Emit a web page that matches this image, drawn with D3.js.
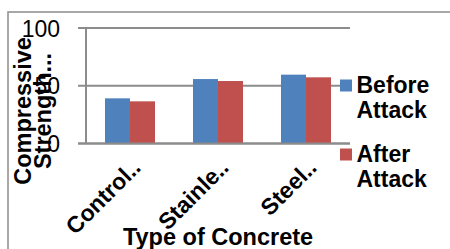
<!DOCTYPE html>
<html>
<head>
<meta charset="utf-8">
<script src="https://cdn.jsdelivr.net/npm/d3@7"></script>
<style>
  body { margin: 0; background: #fff; }
  svg { display: block; font-family: "Liberation Sans", Arial, sans-serif; }
</style>
</head>
<body>
<svg id="chart" width="450" height="249"></svg>
<script>
const categories = ["Control..", "Stainle..", "Steel.."];
const seriesNames = ["Before Attack", "After Attack"];
const beforeAttack = [39.1, 55.8, 59.6];
const afterAttack = [36.5, 54.1, 57.3];
const yTicks = [0, 50, 100];
const colors = ["#4F81BD", "#C0504D"];

const svg = d3.select("#chart");
const plot = { left: 86, right: 350, top: 28, bottom: 143.5 };
const grey = "#8c8c8c";

// outer chart border (runs off the picture on right and bottom)
svg.append("path")
  .attr("d", "M8,260V12H460")
  .attr("fill", "none")
  .attr("stroke", grey)
  .attr("stroke-width", 1.5);

const x = d3.scaleBand()
  .domain(categories)
  .range([plot.left, plot.right])
  .paddingInner(0.432)
  .paddingOuter(0.216);

const xSub = d3.scaleBand()
  .domain(seriesNames)
  .range([0, x.bandwidth()]);

const y = d3.scaleLinear()
  .domain([0, 100])
  .range([plot.bottom, plot.top]);

// gridlines + ticks
svg.append("g")
  .selectAll("line")
  .data(yTicks)
  .join("line")
  .attr("x1", plot.left - 8)
  .attr("x2", plot.right)
  .attr("y1", d => y(d))
  .attr("y2", d => y(d))
  .attr("stroke", grey)
  .attr("stroke-width", 2);

svg.append("line")
  .attr("x1", plot.left).attr("x2", plot.left)
  .attr("y1", y(100)).attr("y2", y(0))
  .attr("stroke", grey)
  .attr("stroke-width", 2);

// tick labels
svg.append("g")
  .selectAll("text")
  .data(yTicks)
  .join("text")
  .attr("x", 60)
  .attr("y", d => y(d) + 8.5)
  .attr("text-anchor", "end")
  .attr("font-size", 23)
  .attr("fill", "#000")
  .text(d => d);

// bars
const series = [beforeAttack, afterAttack];
const groups = svg.append("g")
  .selectAll("g")
  .data(categories)
  .join("g")
  .attr("transform", d => `translate(${x(d)},0)`);

groups.selectAll("rect")
  .data((d, i) => series.map((s, si) => ({ name: seriesNames[si], value: s[i], si })))
  .join("rect")
  .attr("x", d => xSub(d.name))
  .attr("width", xSub.bandwidth())
  .attr("y", d => y(d.value))
  .attr("height", d => y(0) - y(d.value))
  .attr("fill", d => colors[d.si]);

// x axis line drawn over bars
svg.append("line")
  .attr("x1", plot.left - 8).attr("x2", plot.right)
  .attr("y1", y(0)).attr("y2", y(0))
  .attr("stroke", grey)
  .attr("stroke-width", 2);

// y title (two lines, rotated)
const yTitle = [["Compressive", 31], ["Strength...", 51]];
svg.append("g")
  .selectAll("text")
  .data(yTitle)
  .join("text")
  .attr("transform", d => `translate(${d[1]},111) rotate(-90)`)
  .attr("text-anchor", "middle")
  .attr("font-size", 23.5)
  .attr("font-weight", "bold")
  .attr("fill", "#000")
  .text(d => d[0]);

// category labels
svg.append("g")
  .selectAll("text")
  .data(categories)
  .join("text")
  .attr("transform", d => `translate(${x(d) + x.bandwidth() / 2 + 12},169) rotate(-45)`)
  .attr("text-anchor", "end")
  .attr("font-size", 23)
  .attr("font-weight", "bold")
  .attr("fill", "#000")
  .text(d => d);

// x title
svg.append("text")
  .attr("x", (plot.left + plot.right) / 2)
  .attr("y", 245)
  .attr("text-anchor", "middle")
  .attr("font-size", 23.5)
  .attr("font-weight", "bold")
  .attr("fill", "#000")
  .text("Type of Concrete");

// legend
const legendTop = [79.5, 148.5];
const legend = svg.append("g")
  .selectAll("g")
  .data(seriesNames)
  .join("g")
  .attr("transform", (d, i) => `translate(340,${legendTop[i]})`);

legend.append("rect")
  .attr("width", 12)
  .attr("height", 12)
  .attr("fill", (d, i) => colors[i]);

legend.append("text")
  .attr("x", 16.5)
  .attr("y", 13.5)
  .attr("font-size", 23)
  .attr("font-weight", "bold")
  .attr("fill", "#000")
  .selectAll("tspan")
  .data(d => d.split(" "))
  .join("tspan")
  .attr("x", 16.5)
  .attr("dy", (d, i) => i === 0 ? 0 : 25)
  .text(d => d);
</script>
</body>
</html>
